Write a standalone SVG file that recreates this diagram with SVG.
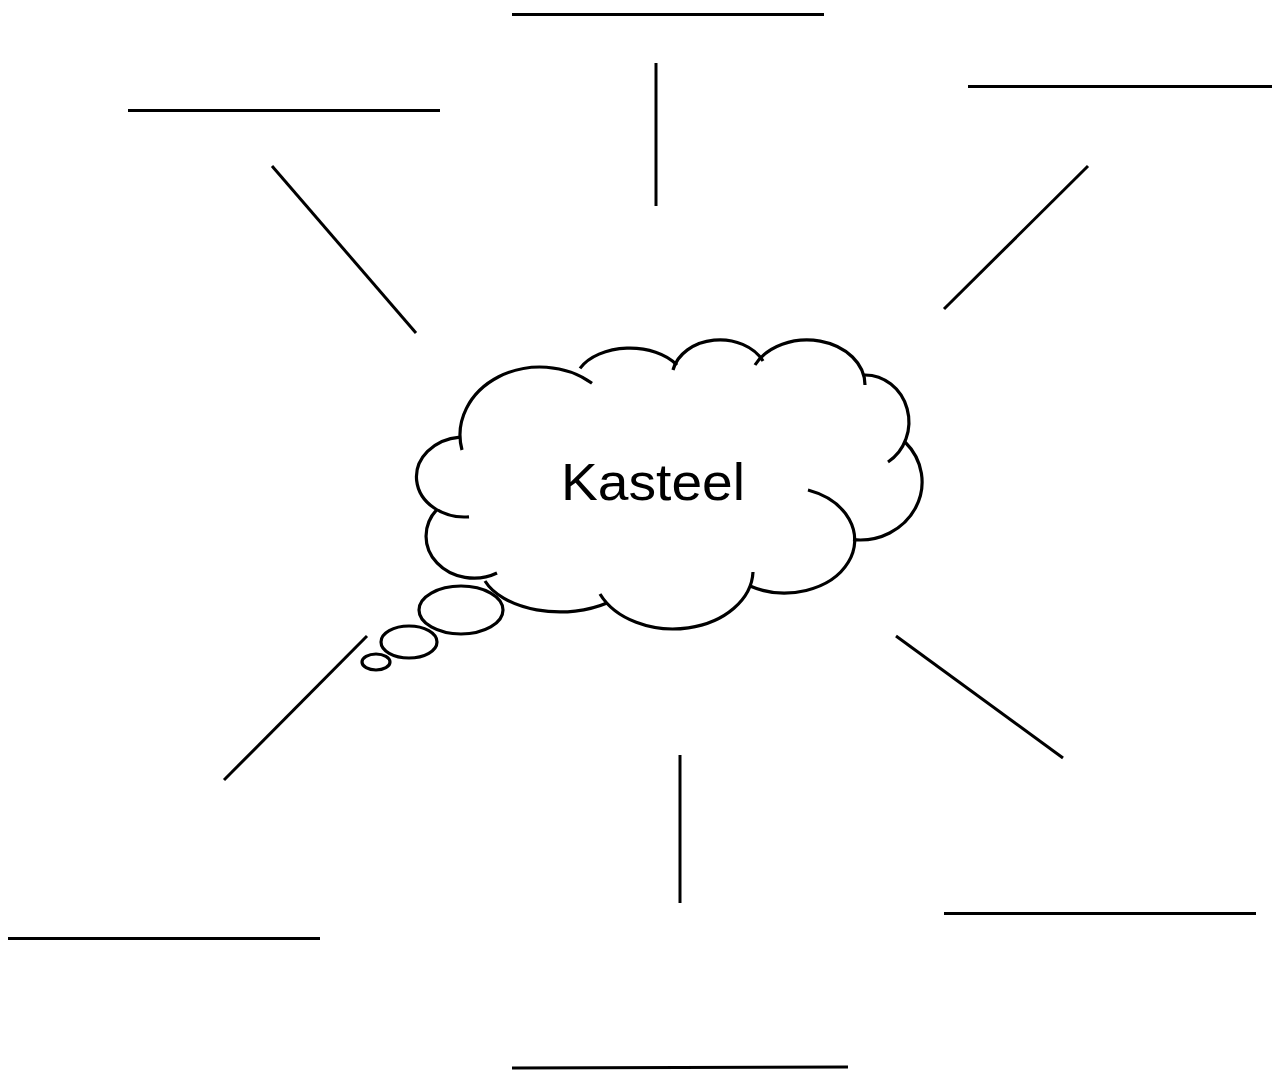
<svg xmlns="http://www.w3.org/2000/svg" width="1272" height="1070" viewBox="0 0 1272 1070">
<style>
.ln{stroke:#000;stroke-width:3;fill:none}
.cl{stroke:#000;stroke-width:3.2;fill:none;stroke-linecap:butt}
.lbl{font-family:"Liberation Sans",sans-serif;font-size:52px;fill:#000}
</style>
<rect width="1272" height="1070" fill="#fff"/>
<g id="connectors">
<line class="ln" x1="512" y1="14.5" x2="824" y2="14.5"/>
<line class="ln" x1="656" y1="63" x2="656" y2="206"/>
<line class="ln" x1="128" y1="110.5" x2="440" y2="110.5"/>
<line class="ln" x1="272" y1="166" x2="416" y2="333"/>
<line class="ln" x1="968" y1="86.5" x2="1272" y2="86.5"/>
<line class="ln" x1="1088" y1="166" x2="944" y2="309"/>
<line class="ln" x1="367" y1="636" x2="224" y2="780"/>
<line class="ln" x1="680" y1="755" x2="680" y2="903"/>
<line class="ln" x1="896" y1="636" x2="1063" y2="758"/>
<line class="ln" x1="8" y1="938.5" x2="320" y2="938.5"/>
<line class="ln" x1="944" y1="913.5" x2="1256" y2="913.5"/>
<line class="ln" x1="512" y1="1068" x2="848" y2="1067"/>
</g>
<g id="cloud">
<path class="cl" d="M462,450 A80,68 0 0 1 592,383.3"/>
<path class="cl" d="M580,368.4 A55,35 0 0 1 677,365"/>
<path class="cl" d="M673,370 A48,38 0 0 1 763,361"/>
<path class="cl" d="M755,365 A58,45 0 0 1 865,385"/>
<path class="cl" d="M864,375 A44,47 0 0 1 888,462"/>
<path class="cl" d="M905,442 A62,58 0 0 1 853,539.6"/>
<path class="cl" d="M808,490 A70,53 0 1 1 750,586"/>
<path class="cl" d="M753,572 A80,59 0 0 1 600,594"/>
<path class="cl" d="M607,603 A80,47 0 0 1 485,581"/>
<path class="cl" d="M497,573 A48,42 0 0 1 437,509.4"/>
<path class="cl" d="M469,516.8 A48,40 0 1 1 460,437.1"/>
<text class="lbl" x="653" y="500" text-anchor="middle" textLength="184" lengthAdjust="spacingAndGlyphs">Kasteel</text>
</g>
<g id="bubbles">
<ellipse class="cl" cx="461" cy="610" rx="42" ry="24"/>
<ellipse class="cl" cx="409" cy="642" rx="28" ry="16"/>
<ellipse class="cl" cx="376" cy="662" rx="14" ry="8"/>
</g>
</svg>
